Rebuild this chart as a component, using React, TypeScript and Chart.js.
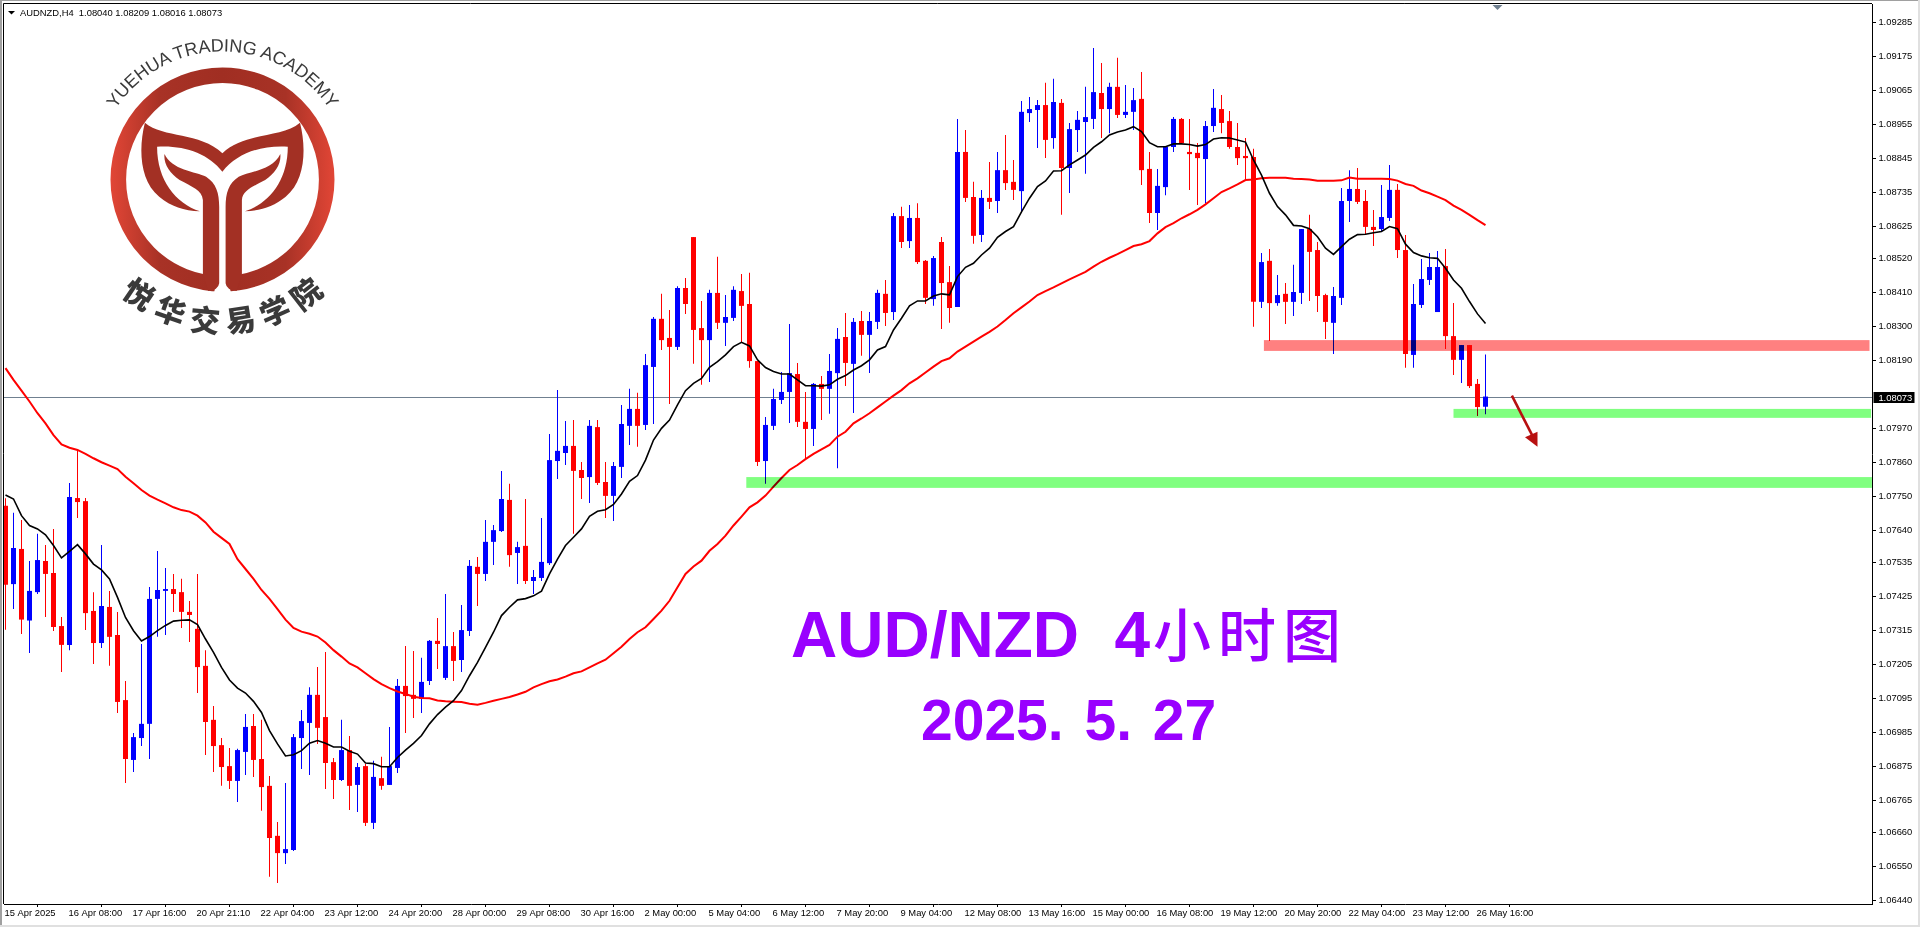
import React, { useEffect, useRef } from "react";
import { Chart, registerables } from "chart.js";

Chart.register(...registerables);

const symbolLine = "AUDNZD,H4  1.08040 1.08209 1.08016 1.08073";
const lastPrice = 1.08073;

const timeLabels = ["15 Apr 2025","16 Apr 08:00","17 Apr 16:00","20 Apr 21:10","22 Apr 04:00","23 Apr 12:00","24 Apr 20:00","28 Apr 00:00","29 Apr 08:00","30 Apr 16:00","2 May 00:00","5 May 04:00","6 May 12:00","7 May 20:00","9 May 04:00","12 May 08:00","13 May 16:00","15 May 00:00","16 May 08:00","19 May 12:00","20 May 20:00","22 May 04:00","23 May 12:00","26 May 16:00"];

const priceTicks = [1.09285,1.09175,1.09065,1.08955,1.08845,1.08735,1.08625,1.0852,1.0841,1.083,1.0819,1.0797,1.0786,1.0775,1.0764,1.07535,1.07425,1.07315,1.07205,1.07095,1.06985,1.06875,1.06765,1.0666,1.0655,1.0644];

const opens = [
1.07719,1.07465,1.07579,1.07347,1.07439,1.0754,1.07501,1.07329,1.07268,1.07744,
1.07734,1.07378,1.07274,1.07391,1.073,1.07089,1.06895,1.06966,1.07012,1.07417,
1.07443,1.07449,1.07439,1.07375,1.0732,1.072,1.07025,1.06943,1.06875,1.06827,
1.06921,1.07005,1.06898,1.06811,1.06649,1.06593,1.06603,1.06966,1.07015,1.07106,
1.07034,1.06888,1.0683,1.06927,1.06814,1.06875,1.06691,1.06836,1.06814,1.06869,
1.07135,1.07106,1.07093,1.07151,1.07281,1.07161,1.07264,1.07219,1.07313,1.07521,
1.07498,1.07602,1.07637,1.07738,1.07566,1.07589,1.07475,1.07485,1.07533,1.07864,
1.0789,1.07913,1.07835,1.07812,1.07974,1.07796,1.07751,1.07845,1.07978,1.08033,
1.07981,1.08169,1.08325,1.08263,1.08234,1.08425,1.0859,1.08295,1.08256,1.08409,
1.08312,1.08328,1.08415,1.08373,1.08188,1.07864,1.07978,1.08062,1.08088,1.08146,
1.07991,1.07968,1.08114,1.08098,1.08149,1.08266,1.08179,1.08318,1.08273,1.08315,
1.08406,1.08347,1.08658,1.08577,1.08652,1.08513,1.08389,1.08574,1.08444,1.08363,
1.08866,1.0872,1.08597,1.08717,1.08707,1.08807,1.08769,1.08739,1.08992,1.09002,
1.09018,1.08911,1.09025,1.08814,1.08937,1.08963,1.08973,1.09057,1.09005,1.09077,
1.08986,1.08996,1.09038,1.08811,1.08668,1.08752,1.08882,1.08973,1.08866,1.08863,
1.08843,1.0895,1.09005,1.08966,1.08882,1.08853,1.0885,1.0838,1.08513,1.08376,
1.08406,1.0838,1.08409,1.08616,1.08548,1.08402,1.08312,1.08393,1.08707,1.08746,
1.08707,1.08623,1.08616,1.08652,1.08743,1.08548,1.08208,1.0837,1.08451,1.08347,
1.08496,1.08269,1.08192,1.0824,1.08114,1.0804];

const closes = [
1.07463,1.07582,1.0735,1.07443,1.07543,1.07498,1.07326,1.07268,1.07747,1.07731,
1.07371,1.07274,1.07394,1.07294,1.07083,1.06898,1.06969,1.07012,1.07417,1.07446,
1.07449,1.07433,1.07375,1.07365,1.07196,1.07018,1.0694,1.06872,1.06827,1.06927,
1.07002,1.06895,1.06807,1.06642,1.06593,1.06606,1.06969,1.07021,1.07106,1.06999,
1.06885,1.0683,1.06927,1.06811,1.06872,1.06691,1.0684,1.06811,1.06875,1.07135,
1.07102,1.07093,1.07148,1.07281,1.07271,1.07264,1.07216,1.07316,1.07524,1.07498,
1.07602,1.0764,1.07741,1.07559,1.07585,1.07475,1.07488,1.07537,1.07867,1.07897,
1.07913,1.07832,1.07809,1.07978,1.07793,1.07751,1.07848,1.07984,1.08033,1.07978,
1.08175,1.08325,1.08256,1.08234,1.08425,1.08373,1.08289,1.08256,1.08409,1.08312,
1.08331,1.08419,1.08367,1.08188,1.07861,1.07981,1.08065,1.08088,1.08149,1.07991,
1.07968,1.08114,1.08098,1.08156,1.0826,1.08182,1.08315,1.08273,1.08318,1.08409,
1.08344,1.08658,1.08574,1.08652,1.08509,1.08393,1.08522,1.08441,1.0836,1.08866,
1.08717,1.08594,1.08717,1.08704,1.08807,1.08765,1.08743,1.08996,1.09005,1.09018,
1.08905,1.09028,1.08814,1.0894,1.0897,1.08979,1.0906,1.09005,1.09077,1.08986,
1.08996,1.09034,1.08807,1.08668,1.08756,1.08882,1.08973,1.08895,1.08859,1.08846,
1.0895,1.09009,1.0896,1.08882,1.08846,1.08846,1.0838,1.08509,1.08376,1.08402,
1.0838,1.08412,1.08616,1.08542,1.08399,1.08315,1.08399,1.08707,1.08746,1.08704,
1.08623,1.08613,1.08655,1.08743,1.08548,1.08211,1.08373,1.08454,1.08493,1.08493,
1.08269,1.08192,1.0824,1.08107,1.08039,1.08073];

const highs = [
1.07743,1.07696,1.07673,1.0754,1.07628,1.07592,1.07644,1.07358,1.07793,1.07903,
1.07744,1.07439,1.07592,1.07443,1.07375,1.07151,1.06982,1.07271,1.07456,1.07572,
1.07517,1.07498,1.07482,1.0741,1.07498,1.07251,1.0707,1.06966,1.06934,1.06931,
1.07044,1.07044,1.07025,1.06843,1.06694,1.0682,1.06979,1.07057,1.07131,1.07196,
1.07245,1.06901,1.07025,1.06973,1.06885,1.06882,1.06892,1.06905,1.07002,1.07157,
1.07264,1.07248,1.07226,1.07284,1.07355,1.07433,1.0731,1.07397,1.07543,1.07553,
1.07673,1.07657,1.07832,1.0779,1.07602,1.07741,1.07511,1.07679,1.07952,1.08094,
1.07994,1.07997,1.07861,1.07997,1.07997,1.07861,1.07861,1.08046,1.08098,1.08085,
1.08211,1.08331,1.08406,1.08354,1.08431,1.08457,1.0859,1.08383,1.08419,1.08526,
1.08402,1.08431,1.0847,1.08474,1.08188,1.08007,1.08098,1.08153,1.08308,1.08182,
1.08088,1.08117,1.0814,1.08211,1.08295,1.08344,1.08328,1.0835,1.08347,1.08419,
1.08451,1.08668,1.08688,1.08694,1.087,1.08516,1.08529,1.0859,1.08496,1.08973,
1.08937,1.08769,1.08743,1.08833,1.08866,1.08921,1.0884,1.09031,1.09044,1.09034,
1.0909,1.09103,1.09038,1.0896,1.08999,1.09077,1.09203,1.09154,1.0909,1.09171,
1.09083,1.09073,1.09125,1.08866,1.08811,1.08882,1.08979,1.08976,1.08973,1.08895,
1.08966,1.0907,1.09051,1.08999,1.0896,1.08911,1.08876,1.08538,1.08551,1.08467,
1.08441,1.085,1.08616,1.08662,1.08574,1.08406,1.08428,1.08749,1.08807,1.08814,
1.08743,1.08678,1.08759,1.08824,1.08762,1.08597,1.08438,1.08519,1.08538,1.08545,
1.08551,1.08376,1.0824,1.0824,1.0813,1.08209];

const lows = [
1.07317,1.07384,1.07303,1.07242,1.07433,1.07358,1.07313,1.0718,1.07251,1.07679,
1.07316,1.07206,1.07258,1.072,1.07047,1.0682,1.06856,1.0694,1.06898,1.07294,
1.073,1.07375,1.07323,1.07277,1.07112,1.06911,1.06856,1.06811,1.06801,1.06759,
1.06846,1.0684,1.0673,1.06516,1.06496,1.06558,1.066,1.06866,1.06846,1.06947,
1.06801,1.06768,1.06827,1.06733,1.06726,1.06681,1.06671,1.06798,1.06814,1.06853,
1.06982,1.07031,1.07047,1.07138,1.0719,1.07154,1.07151,1.0718,1.07297,1.07394,
1.07475,1.07527,1.07634,1.07521,1.07465,1.07465,1.07433,1.07475,1.07527,1.07806,
1.07851,1.07628,1.07741,1.07728,1.07786,1.07679,1.0767,1.07809,1.07916,1.0791,
1.07965,1.07984,1.08224,1.08049,1.08224,1.08341,1.08179,1.08111,1.0812,1.08292,
1.08237,1.08318,1.0825,1.08166,1.07848,1.0779,1.07965,1.08049,1.07987,1.07974,
1.07867,1.07913,1.07997,1.08017,1.07841,1.08107,1.0802,1.08205,1.08149,1.08292,
1.08302,1.08321,1.08555,1.08555,1.08503,1.08373,1.08367,1.08292,1.08312,1.08363,
1.08704,1.08568,1.08574,1.08681,1.08668,1.08743,1.0871,1.08671,1.08963,1.08879,
1.08846,1.08876,1.08662,1.08733,1.08866,1.08795,1.0894,1.08911,1.08927,1.08976,
1.08976,1.08937,1.08759,1.08636,1.08613,1.08726,1.08866,1.08892,1.08743,1.08694,
1.087,1.08931,1.08927,1.08876,1.08824,1.08775,1.08299,1.0836,1.08253,1.08367,
1.08308,1.08334,1.08373,1.08383,1.08347,1.0826,1.08211,1.0837,1.08639,1.08697,
1.086,1.08561,1.0861,1.08642,1.08522,1.08166,1.08166,1.0836,1.08435,1.08347,
1.08227,1.08143,1.08117,1.08101,1.0801,1.08016];

const fastMA = [
1.07754,1.07741,1.07687,1.07655,1.07644,1.07625,1.0759,1.0755,1.07571,1.07593,
1.07563,1.0753,1.07511,1.07482,1.07422,1.07357,1.07314,1.07281,1.07295,1.07314,
1.07331,1.07345,1.07348,1.07349,1.07334,1.07287,1.07244,1.07195,1.07154,1.07128,
1.07112,1.07085,1.07049,1.0699,1.06947,1.06908,1.06912,1.06925,1.06949,1.06958,
1.06949,1.06937,1.06937,1.06923,1.06914,1.06885,1.06883,1.06873,1.06873,1.06903,
1.06927,1.06949,1.06974,1.07012,1.07042,1.07066,1.07087,1.0712,1.07168,1.07211,
1.0726,1.07309,1.07363,1.0739,1.07414,1.07418,1.07427,1.07442,1.07498,1.07546,
1.0759,1.07617,1.07644,1.07685,1.07701,1.07706,1.07723,1.07757,1.07798,1.07817,
1.07867,1.07932,1.0797,1.07997,1.08046,1.08092,1.08116,1.08132,1.08168,1.08186,
1.08208,1.08235,1.08249,1.08237,1.08192,1.08167,1.08154,1.08146,1.08146,1.08127,
1.08108,1.08108,1.08107,1.08111,1.08129,1.08141,1.08159,1.08173,1.08192,1.08224,
1.08235,1.08289,1.08327,1.08367,1.08383,1.08383,1.08399,1.08406,1.08403,1.08462,
1.08492,1.08505,1.08532,1.08554,1.08589,1.08608,1.08624,1.08672,1.08716,1.08754,
1.08772,1.08804,1.08805,1.08824,1.0884,1.08856,1.08881,1.08899,1.08921,1.08931,
1.08937,1.08948,1.08932,1.08896,1.08883,1.08883,1.08892,1.08892,1.0889,1.08885,
1.0889,1.08908,1.08912,1.08911,1.08905,1.08898,1.0884,1.08791,1.08732,1.08689,
1.08662,1.08628,1.08626,1.08617,1.08591,1.08554,1.08534,1.08559,1.08583,1.08598,
1.08599,1.08604,1.08608,1.08624,1.08617,1.08567,1.0854,1.08529,1.08523,1.08521,
1.08489,1.08451,1.08424,1.08381,1.08341,1.0831];

const slowMA = [
1.08165,1.08127,1.08092,1.08057,1.08019,1.07986,1.07948,1.07918,1.07907,1.079,
1.07887,1.07873,1.0786,1.07849,1.07838,1.07813,1.07792,1.0777,1.07752,1.07739,
1.07727,1.07714,1.07705,1.077,1.07687,1.07665,1.07635,1.07615,1.07595,1.07546,
1.07514,1.07482,1.07446,1.07417,1.07384,1.0735,1.07323,1.07311,1.07304,1.07295,
1.07276,1.07251,1.0723,1.07208,1.07195,1.07176,1.07157,1.07141,1.07128,1.07117,
1.07109,1.071,1.07096,1.07095,1.07088,1.07085,1.07084,1.07083,1.07077,1.07074,
1.0708,1.07087,1.07093,1.07099,1.07107,1.07116,1.0713,1.07141,1.0715,1.07156,
1.07165,1.07176,1.07182,1.07195,1.07208,1.0722,1.07241,1.07262,1.07287,1.07309,
1.07325,1.07352,1.07379,1.07411,1.07455,1.07498,1.07522,1.07541,1.07573,1.07595,
1.07622,1.07655,1.07684,1.07714,1.0773,1.07752,1.07781,1.07809,1.07835,1.07851,
1.0787,1.07887,1.07902,1.07916,1.07943,1.07959,1.07986,1.08002,1.08019,1.08038,
1.08057,1.08076,1.08094,1.08116,1.08132,1.08151,1.0817,1.08188,1.08197,1.08219,
1.08235,1.08251,1.08267,1.08283,1.083,1.08321,1.08343,1.08362,1.08381,1.08402,
1.08415,1.08427,1.0844,1.08453,1.08465,1.08477,1.08494,1.0851,1.08523,1.08535,
1.08548,1.08561,1.08567,1.08577,1.08602,1.08622,1.08635,1.08651,1.08664,1.08678,
1.08696,1.08716,1.08736,1.08748,1.08761,1.08775,1.08777,1.08781,1.08782,1.08782,
1.08782,1.08779,1.08778,1.08777,1.08773,1.08773,1.08773,1.08774,1.08783,1.08779,
1.08779,1.08779,1.08779,1.08778,1.08773,1.08762,1.08756,1.08741,1.08732,1.08721,
1.0871,1.08692,1.08678,1.08662,1.08645,1.08629];

// Analyst marks on the chart, in bar index / price terms
const pinkZone = { from: 157.3, to: 233, hi: 1.08256, lo: 1.08221 };
const greenZoneNear = { from: 181, to: 233.2, hi: 1.08033, lo: 1.08004 };
const greenZoneFar = { from: 92.6, to: 233.3, hi: 1.07812, lo: 1.07777 };
const arrow = { x0: 188.3, y0: 1.08076, x1: 191.5, y1: 1.0791 };

const UI_FONT = "'Liberation Sans', Arial, sans-serif";
const UP = "#0000ff";
const DOWN = "#ff0000";
const LABEL_SIZE = 9.4;

function Logo() {
  const stem =
    "M164.5 154 C171.4 170 195.9 171.7 206.1 176.7 C216.3 183.3 219.2 193.3 219.2 206.7 L219.2 283.3 Q218.4 290 208.2 291 L202.9 274 L202.9 200 C202 190 191.8 186.7 179.6 180 C169.4 173.3 163.3 163.3 164.5 154 Z";
  const crown =
    "M144.9 122.7 C163.3 138.3 200 131.7 222.4 153.3 C244.9 131.7 281.6 138.3 300 122.7 C306.1 146.7 306.1 180 285.7 196.7 C273.5 206.7 261.2 210.7 244.9 211.3 C269.4 203.3 287.8 180 287.8 146.7 C261.2 145 236.7 153.3 222.4 171.7 C208.2 153.3 183.7 145 157.1 146.7 C157.1 180 175.5 203.3 200 211.3 C183.7 210.7 171.4 206.7 159.2 196.7 C138.8 180 138.8 146.7 144.9 122.7 Z";
  return (
    <g>
      <defs>
        <linearGradient id="ring" gradientUnits="userSpaceOnUse" x1="110" x2="335" y1="0" y2="0">
          <stop offset="0" stopColor="#e24636" />
          <stop offset="0.22" stopColor="#a83226" />
          <stop offset="0.5" stopColor="#a02e22" />
          <stop offset="0.78" stopColor="#a83226" />
          <stop offset="1" stopColor="#e24636" />
        </linearGradient>
        <path id="arcTop" d="M102.2 135.7 A128 128 0 0 1 342.8 135.7" />
        <path id="arcBottom" d="M90 256 A153 153 0 0 0 355 256" />
      </defs>
      <circle cx="222.5" cy="179.5" r="104.2" fill="none" stroke="url(#ring)" strokeWidth="15.6" />
      <path d="M219.2 268 L225.6 268 L231 293 L214 293 Z" fill="#fff" />
      <path d={crown} fill="#a33024" />
      <path d={stem} fill="#a33024" />
      <path d={stem} fill="#a33024" transform="translate(444.8 0) scale(-1 1)" />
      <text fontFamily={UI_FONT} fontSize="18" fill="#3a3a3a" textAnchor="middle">
        <textPath href="#arcTop" startOffset="50%">YUEHUA TRADING ACADEMY</textPath>
      </text>
      <text fontFamily="'Noto Sans CJK SC'" fontWeight="900" fontSize="30" fill="#3a3a3a" textAnchor="middle" letterSpacing="8.5">
        <textPath href="#arcBottom" startOffset="51.5%">悦华交易学院</textPath>
      </text>
    </g>
  );
}

export default function App() {
  const canvasRef = useRef<HTMLCanvasElement | null>(null);

  useEffect(() => {
    const canvas = canvasRef.current;
    if (!canvas) return;
    const idx = opens.map((_, i) => i);
    const colors = opens.map((o, i) => (closes[i] >= o ? UP : DOWN));

    const decorations = {
      id: "decorations",
      beforeDraw(chart: any) {
        const { ctx, width, height } = chart;
        ctx.save();
        ctx.fillStyle = "#ffffff";
        ctx.fillRect(0, 0, width, height);
        ctx.fillStyle = "#a0a0a0";
        ctx.fillRect(0, 0, width, 1);
        ctx.fillRect(0, 0, 2, height);
        ctx.fillStyle = "#e0e0e0";
        ctx.fillRect(0, 925, width, 2);
        ctx.fillRect(1918, 0, 2, height);
        ctx.restore();
      },
      beforeDatasetsDraw(chart: any) {
        const { ctx, chartArea: a, scales } = chart;
        const y = Math.round(scales.y.getPixelForValue(lastPrice)) + 0.5;
        ctx.save();
        ctx.strokeStyle = "#708090";
        ctx.lineWidth = 1;
        ctx.beginPath();
        ctx.moveTo(a.left, y);
        ctx.lineTo(a.right, y);
        ctx.stroke();
        ctx.restore();
      },
      afterDatasetsDraw(chart: any) {
        const { ctx, chartArea: a, scales } = chart;
        const zone = (z: any, color: string) => {
          const l = scales.x.getPixelForValue(z.from);
          const r = scales.x.getPixelForValue(z.to);
          const t = scales.y.getPixelForValue(z.hi);
          const b = scales.y.getPixelForValue(z.lo);
          ctx.fillStyle = color;
          ctx.fillRect(l, t, r - l, b - t);
        };
        ctx.save();
        ctx.beginPath();
        ctx.rect(a.left, a.top, a.right - a.left, a.bottom - a.top);
        ctx.clip();
        ctx.globalCompositeOperation = "multiply";
        zone(pinkZone, "#ff8080");
        zone(greenZoneNear, "#80ff80");
        zone(greenZoneFar, "#80ff80");
        ctx.globalCompositeOperation = "source-over";

        // sell arrow
        const ax = scales.x.getPixelForValue(arrow.x0);
        const ay = scales.y.getPixelForValue(arrow.y0);
        const bx = scales.x.getPixelForValue(arrow.x1);
        const by = scales.y.getPixelForValue(arrow.y1);
        ctx.strokeStyle = "#b81010";
        ctx.fillStyle = "#b81010";
        ctx.lineWidth = 2.6;
        ctx.beginPath();
        ctx.moveTo(ax, ay);
        ctx.lineTo(bx - 5, by - 11);
        ctx.stroke();
        ctx.beginPath();
        ctx.moveTo(bx, by);
        ctx.lineTo(bx - 12.5, by - 9.5);
        ctx.lineTo(bx, by - 15);
        ctx.closePath();
        ctx.fill();

        // chart-shift marker
        ctx.fillStyle = "#708090";
        ctx.beginPath();
        ctx.moveTo(1492.5, a.top + 1);
        ctx.lineTo(1502.5, a.top + 1);
        ctx.lineTo(1497.5, a.top + 6);
        ctx.closePath();
        ctx.fill();
        ctx.restore();
      },
      afterDraw(chart: any) {
        const { ctx, chartArea: a, scales } = chart;
        ctx.save();
        ctx.strokeStyle = "#000";
        ctx.lineWidth = 1;
        ctx.beginPath();
        ctx.moveTo(a.left - 0.5, a.bottom);
        ctx.lineTo(a.left - 0.5, a.top - 0.5);
        ctx.lineTo(a.right, a.top - 0.5);
        ctx.stroke();

        // symbol line
        ctx.fillStyle = "#000";
        ctx.beginPath();
        ctx.moveTo(8, 11);
        ctx.lineTo(15, 11);
        ctx.lineTo(11.5, 14.5);
        ctx.closePath();
        ctx.fill();
        ctx.font = `${LABEL_SIZE}px ${UI_FONT}`;
        ctx.textAlign = "left";
        ctx.textBaseline = "middle";
        ctx.fillText(symbolLine, 20, 13);

        // current price tag
        const y = Math.round(scales.y.getPixelForValue(lastPrice)) + 0.5;
        ctx.fillStyle = "#000";
        ctx.fillRect(a.right + 1.5, y - 5.5, 41, 11);
        ctx.fillStyle = "#fff";
        ctx.fillText(lastPrice.toFixed(5), 1878.4, y + 0.5);
        ctx.restore();
      },
    };

    const noScalePadding = (s: any) => {
      s.paddingTop = 0;
      s.paddingBottom = 0;
      s.paddingLeft = 0;
      s.paddingRight = 0;
    };

    const chart = new Chart(canvas, {
      type: "bar",
      plugins: [decorations],
      data: {
        datasets: [
          {
            type: "line",
            label: "Slow MA",
            data: idx.map((i) => ({ x: i, y: slowMA[i] })),
            borderColor: "#ff0000",
            borderWidth: 2,
            pointRadius: 0,
            tension: 0,
            order: 1,
          },
          {
            type: "line",
            label: "Fast MA",
            data: idx.map((i) => ({ x: i, y: fastMA[i] })),
            borderColor: "#000000",
            borderWidth: 1.6,
            pointRadius: 0,
            tension: 0,
            order: 0,
          },
          {
            label: "Body",
            data: idx.map((i) => ({ x: i, y: [opens[i], closes[i]] })),
            backgroundColor: colors,
            borderWidth: 0,
            grouped: false,
            maxBarThickness: 5,
            order: 2,
          },
          {
            label: "Wick",
            data: idx.map((i) => ({ x: i, y: [lows[i], highs[i]] })),
            backgroundColor: colors,
            borderWidth: 0,
            grouped: false,
            maxBarThickness: 1,
            order: 3,
          },
        ],
      } as any,
      options: {
        animation: false,
        responsive: false,
        devicePixelRatio: 1,
        events: [],
        layout: { autoPadding: false, padding: { left: 4, top: 4, right: 0, bottom: 0 } },
        plugins: { legend: { display: false }, tooltip: { enabled: false }, title: { display: false } },
        scales: {
          x: {
            type: "linear",
            bounds: "data",
            min: -0.1875,
            max: 233.3125,
            offset: false,
            afterFit: (s: any) => { s.height = 23; noScalePadding(s); },
            afterBuildTicks: (s: any) => { s.ticks = timeLabels.map((_, k) => ({ value: k * 8 })); },
            grid: { drawOnChartArea: false, drawTicks: true, tickLength: 3, tickColor: "#000" },
            border: { display: true, color: "#000", width: 1 },
            ticks: {
              autoSkip: false,
              maxRotation: 0,
              minRotation: 0,
              align: "start",
              labelOffset: -1,
              padding: 1,
              color: "#000",
              font: { family: UI_FONT, size: LABEL_SIZE },
              callback: (v: any) => timeLabels[Math.round(Number(v) / 8)] ?? "",
            },
          },
          y: {
            type: "linear",
            position: "right",
            bounds: "data",
            min: 1.06428,
            max: 1.093456,
            afterFit: (s: any) => { s.width = 48; noScalePadding(s); },
            afterBuildTicks: (s: any) => { s.ticks = priceTicks.map((value) => ({ value })); },
            grid: { drawOnChartArea: false, drawTicks: true, tickLength: 4, tickColor: "#000" },
            border: { display: true, color: "#000", width: 1 },
            ticks: {
              autoSkip: false,
              padding: 2.4,
              color: "#000",
              font: { family: UI_FONT, size: LABEL_SIZE },
              callback: (v: any) => Number(v).toFixed(5),
            },
          },
        },
      } as any,
    });
    return () => chart.destroy();
  }, []);

  return (
    <div style={{ position: "fixed", left: 0, top: 0, width: 1920, height: 927, overflow: "hidden", background: "#fff" }}>
      <canvas ref={canvasRef} width={1920} height={927} style={{ position: "absolute", left: 0, top: 0, width: 1920, height: 927 }} />
      <svg width={1920} height={927} viewBox="0 0 1920 927" style={{ position: "absolute", left: 0, top: 0, pointerEvents: "none" }}>
        <Logo />
        <text x="791" y="657" fontFamily={UI_FONT} fontWeight="700" fontSize="64" fill="#9900ff" style={{ whiteSpace: "pre" }}>
          {"AUD/NZD  4"}
        </text>
        <text x="1153" y="657" fontFamily="'Noto Sans CJK SC'" fontWeight="500" fontSize="58" fill="#9900ff" letterSpacing="7">
          小时图
        </text>
        <text x="921" y="740" fontFamily={UI_FONT} fontWeight="700" fontSize="57" fill="#9900ff" style={{ whiteSpace: "pre", wordSpacing: "5px" }}>
          2025. 5. 27
        </text>
      </svg>
    </div>
  );
}
